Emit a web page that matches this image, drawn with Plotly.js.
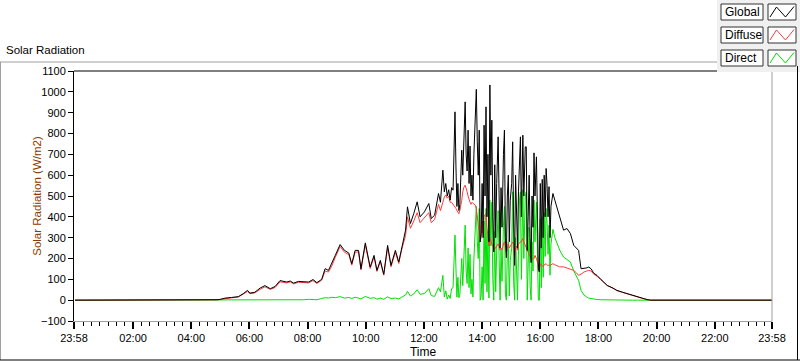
<!DOCTYPE html>
<html><head><meta charset="utf-8">
<script src="https://cdn.plot.ly/plotly-3.0.1.min.js"></script>
<style>html,body{margin:0;padding:0;background:#fff;}#chart{width:800px;height:361px;}</style>
</head><body><div id="chart"></div>
<script>
var times = [
'00:00','04:50','04:55','05:00','05:10','05:23','05:37','05:47','05:56','06:01',
'06:11','06:22','06:32','06:43','06:53','07:03','07:10','07:17','07:24','07:31',
'07:41','07:52','08:02','08:11','08:19','08:29','08:36','08:43','08:50','08:57',
'09:07','09:16','09:25','09:31','09:38','09:45','09:50','09:59','10:09','10:17',
'10:23','10:30','10:37','10:45','10:52','11:01','11:08','11:14','11:22','11:26',
'11:32','11:39','11:46','11:52','12:01','12:10','12:15','12:22','12:30','12:34',
'12:39','12:42','12:45','12:48','12:51','12:54','12:57','13:00','13:02','13:04',
'13:06','13:08','13:10','13:12','13:14','13:16','13:18','13:20','13:22','13:25',
'13:27','13:29','13:31','13:33','13:35','13:37','13:39','13:41','13:43','13:46',
'13:48','13:50','13:52','13:54','13:56','13:58','14:00','14:02','14:04','14:06',
'14:08','14:10','14:12','14:14','14:16','14:18','14:20','14:22','14:24','14:26',
'14:28','14:30','14:33','14:35','14:37','14:39','14:41','14:44','14:46','14:48',
'14:50','14:52','14:54','14:56','14:58','15:01','15:03','15:05','15:07','15:09',
'15:11','15:13','15:15','15:17','15:19','15:21','15:24','15:26','15:29','15:31',
'15:33','15:35','15:37','15:39','15:41','15:43','15:45','15:47','15:49','15:52',
'15:54','15:56','15:58','16:00','16:02','16:04','16:06','16:08','16:10','16:12',
'16:14','16:16','16:18','16:20','16:22','16:26','16:30','16:35','16:40','16:48',
'16:55','17:02','17:09','17:15','17:19','17:24','17:30','17:36','17:40','17:45',
'17:50','17:57','18:05','18:18','18:30','18:38','18:50','18:59','19:10','19:20',
'19:30','19:40','19:47','23:58'];

var globalRad = [
0,0,2,4,10,13,17,31,47,34,
38,58,70,55,66,94,92,87,92,82,
90,89,87,99,84,100,151,143,175,215,
267,239,226,175,239,239,151,275,159,215,
143,191,124,263,167,239,183,255,336,448,
368,416,472,400,424,464,392,408,512,470,
624,520,560,500,530,480,540,528,700,904,
640,450,560,430,460,620,720,600,760,952,
700,620,816,560,740,500,600,480,700,860,
1012,760,600,816,279,320,560,300,840,500,
928,400,700,280,1033,600,864,400,231,650,
300,560,784,500,250,540,350,700,816,300,
204,500,600,280,480,560,760,380,167,600,
350,250,520,700,784,400,792,500,736,736,
239,400,600,300,180,500,350,707,500,688,
400,150,135,560,250,580,300,600,400,632,
550,400,545,300,450,512,480,440,410,336,
344,320,263,250,239,151,152,155,159,150,
130,119,100,71,58,47,38,31,24,15,
10,3,0,0];

var diffuseRad = [
0,0,2,4,8,11,15,28,42,31,
35,52,64,52,61,88,87,83,88,78,
86,85,83,94,80,96,140,135,165,205,
258,230,218,168,230,232,145,265,152,207,
138,185,120,252,160,230,176,242,310,400,
345,380,420,372,395,420,372,388,460,430,
470,495,505,490,500,470,470,460,455,450,
440,430,420,415,430,450,480,520,540,552,
540,520,500,480,470,460,470,465,460,456,
440,400,360,330,288,300,380,320,400,410,
416,350,300,260,300,280,270,260,240,250,
250,260,270,260,240,250,240,270,280,260,
230,250,270,250,260,270,279,270,200,250,
260,240,270,273,280,280,296,280,260,250,
239,230,220,210,200,200,195,200,215,200,
180,160,150,175,170,165,160,170,175,175,
170,165,170,165,170,175,170,165,160,160,
155,151,143,130,119,125,135,140,143,140,
125,115,98,70,57,46,37,30,23,14,
9,3,0,0];

var directRad = [
0,0,0,0,0,0,1,1,2,1,
2,3,3,1,3,2,1,2,3,1,
3,2,4,3,2,8,12,10,14,12,
17,10,13,8,14,10,6,18,9,12,
5,10,4,16,8,10,6,14,25,42,
20,30,50,28,32,55,22,18,60,40,
119,15,45,5,25,8,55,60,207,312,
150,15,110,12,25,140,200,70,190,360,
140,80,250,60,220,30,100,15,200,340,
450,280,200,440,0,20,160,0,380,80,
440,40,330,10,480,260,470,100,0,330,
40,240,430,200,0,240,90,360,450,30,
0,230,280,20,190,250,520,90,0,300,
80,0,240,480,520,100,530,200,500,520,
0,160,350,70,0,280,140,480,280,470,
200,0,0,390,60,400,110,420,210,440,
370,220,360,120,270,340,300,272,240,207,
195,183,140,110,95,47,25,15,10,8,
5,3,2,1,0,0,0,0,0,0,
0,0,0,0];

var seriesNames = ['Global','Diffuse','Direct'];
var xTickVals = [-2/60,2,4,6,8,10,12,14,16,18,20,22,24-2/60];
var xTickText = ['23:58','02:00','04:00','06:00','08:00','10:00','12:00','14:00','16:00','18:00','20:00','22:00','23:58'];

function toHours(t){var p=t.split(':');return (+p[0])+(+p[1])/60;}
var x = times.map(toHours);

var L=74,R=772,T=71,B=321;
function px(v){return (v-L)/(R-L);}
function py(v){return (B-v)/(B-T);}

var colors = {Global:'#000000', Diffuse:'#ff3b3b', Direct:'#00e000'};
var font = 'Liberation Sans, Arial, sans-serif';

var traces = [
 {x:x, y:directRad, name:'Direct', type:'scatter', mode:'lines', line:{color:colors.Direct,width:1}},
 {x:x, y:diffuseRad, name:'Diffuse', type:'scatter', mode:'lines', line:{color:colors.Diffuse,width:1}},
 {x:x, y:globalRad, name:'Global', type:'scatter', mode:'lines', line:{color:colors.Global,width:1}}
];

var shapes = [
 {type:'rect', xref:'paper', yref:'paper', x0:px(717), x1:px(800), y0:py(0), y1:py(72), fillcolor:'#f0f0f0', line:{width:0}, layer:'below'},
 {type:'line', xref:'paper', yref:'paper', x0:px(0), x1:px(717), y0:py(62), y1:py(62), line:{color:'#a0a0a0',width:1}},
 {type:'line', xref:'paper', yref:'paper', x0:px(0.5), x1:px(0.5), y0:py(62), y1:py(360), line:{color:'#a0a0a0',width:1}},
 {type:'line', xref:'paper', yref:'paper', x0:px(0), x1:px(800), y0:py(360), y1:py(360), line:{color:'#000',width:1}},
 {type:'line', xref:'paper', yref:'paper', x0:px(797.5), x1:px(797.5), y0:py(66), y1:py(360), line:{color:'#000',width:1}},
 {type:'line', xref:'paper', yref:'paper', x0:px(74), x1:px(717), y0:py(71), y1:py(71), line:{color:'#000',width:1}},
 {type:'line', xref:'paper', yref:'paper', x0:px(772), x1:px(772), y0:py(72), y1:py(321), line:{color:'#a0a0a0',width:1}}
];
var annotations = [
 {xref:'paper', yref:'paper', x:px(4), y:py(50), xanchor:'left', yanchor:'middle', text:'Solar Radiation', showarrow:false, font:{family:font,size:11.5,color:'#000'}}
];
var boxTops = [4, 27, 50];
seriesNames.forEach(function(n,i){
  var yt = boxTops[i];
  shapes.push({type:'rect', xref:'paper', yref:'paper', x0:px(721), x1:px(763), y0:py(yt), y1:py(yt+16), fillcolor:'#fff', line:{color:'#333',width:1}});
  shapes.push({type:'rect', xref:'paper', yref:'paper', x0:px(768), x1:px(796), y0:py(yt), y1:py(yt+16), fillcolor:'#fff', line:{color:'#333',width:1}});
  shapes.push({type:'path', xref:'paper', yref:'paper', path:'M '+px(770)+' '+py(yt+13)+' L '+px(776.5)+' '+py(yt+3)+' L '+px(785.5)+' '+py(yt+13)+' L '+px(794)+' '+py(yt+2.5), line:{color:colors[n],width:1}});
  annotations.push({xref:'paper', yref:'paper', x:px(723), y:py(yt+8), xanchor:'left', yanchor:'middle', text:n, showarrow:false, font:{family:font,size:12,color:'#000'}});
});

var layout = {
 width:800, height:361, margin:{l:L, r:800-R, t:T, b:361-B, pad:0},
 paper_bgcolor:'#fff', plot_bgcolor:'#fff', showlegend:false,
 xaxis:{range:[-2/60,24-2/60], tickmode:'array', tickvals:xTickVals, ticktext:xTickText,
   ticks:'outside', ticklen:7, tickwidth:2, tickcolor:'#000', showline:true, linecolor:'#a0a0a0', linewidth:1,
   showgrid:false, zeroline:false, tickfont:{family:font,size:11,color:'#000'},
   title:{text:'Time', font:{family:font,size:12,color:'#000'}, standoff:4},
   minor:{tickmode:'linear', tick0:0, dtick:2/7, ticks:'outside', ticklen:4, tickwidth:1, tickcolor:'#000', showgrid:false}},
 yaxis:{range:[-100,1100], tickmode:'linear', tick0:-100, dtick:100, ticks:'outside', ticklen:5, tickwidth:1, tickcolor:'#000',
   showline:true, linecolor:'#000', linewidth:1, showgrid:false, zeroline:false,
   tickfont:{family:font,size:11,color:'#000'},
   title:{text:'Solar Radiation (W/m2)', font:{family:font,size:11.5,color:'#8b3a00'}}},
 shapes:shapes, annotations:annotations
};
Plotly.newPlot('chart', traces, layout, {staticPlot:true, displayModeBar:false});
</script></body></html>
